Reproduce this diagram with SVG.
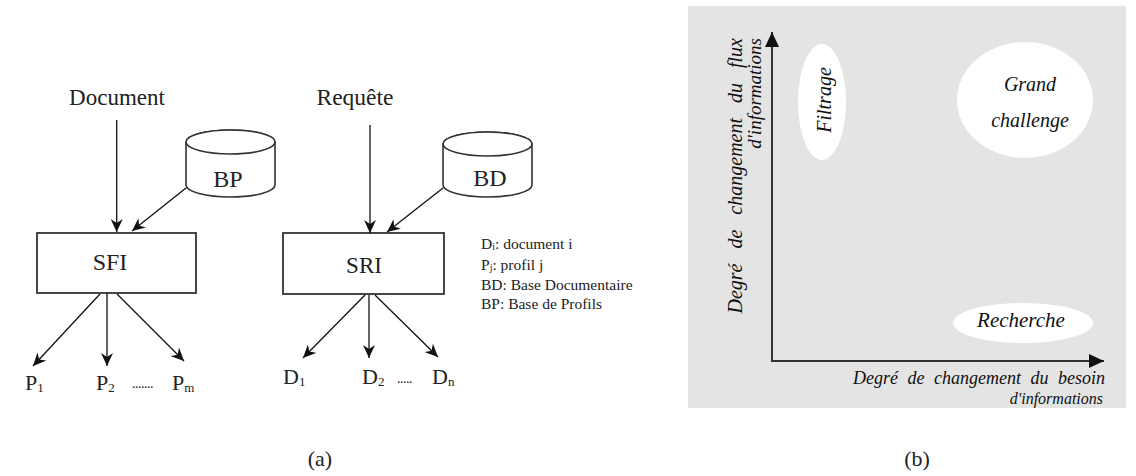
<svg xmlns="http://www.w3.org/2000/svg" width="1136" height="476" viewBox="0 0 1136 476">
<style>
.t{font-family:"Liberation Serif","Times New Roman",serif;fill:#222}
.it{font-family:"Liberation Serif","Times New Roman",serif;font-style:italic;fill:#111}
.box{fill:#fff;stroke:#333;stroke-width:1.8}
.cyl{fill:#fff;stroke:#333;stroke-width:1.6}
.con{stroke:#111;stroke-width:1.3;fill:none;marker-end:url(#ah)}
.axis{stroke:#333;stroke-width:2;fill:none;marker-end:url(#ax)}
.blob{fill:#fff}
</style>
<defs>
<marker id="ah" markerUnits="userSpaceOnUse" markerWidth="14" markerHeight="12" refX="13" refY="6" orient="auto">
<path d="M0,0 L13,6 L0,12 L4,6 z" fill="#111"/>
</marker>
<marker id="ax" markerUnits="userSpaceOnUse" markerWidth="16" markerHeight="14" refX="15" refY="7" orient="auto">
<path d="M0,0 L15,7 L0,14 z" fill="#111"/>
</marker>
</defs>
<rect width="1136" height="476" fill="#fff"/>

<!-- (a) -->
<g id="document"><text class="t" x="117" y="105" font-size="23" text-anchor="middle">Document</text></g>
<g id="requete"><text class="t" x="355" y="105" font-size="23.5" text-anchor="middle">Requête</text></g>

<g id="bp">
<path class="cyl" d="M186,142 L186,185 A44.5,12 0 0 0 275,185 L275,142 A44.5,12 0 0 0 186,142 Z"/>
<ellipse class="cyl" cx="230.5" cy="142" rx="44.5" ry="12"/>
<text class="t" x="228" y="187" font-size="24" text-anchor="middle">BP</text>
</g>
<g id="bd">
<path class="cyl" d="M443,144 L443,185 A44.5,12 0 0 0 532,185 L532,144 A44.5,12 0 0 0 443,144 Z"/>
<ellipse class="cyl" cx="487.5" cy="144" rx="44.5" ry="12"/>
<text class="t" x="490" y="186" font-size="24" text-anchor="middle">BD</text>
</g>

<g id="sfi">
<rect class="box" x="37" y="233" width="159" height="60"/>
<text class="t" x="110" y="270" font-size="24" text-anchor="middle">SFI</text>
</g>
<g id="sri">
<rect class="box" x="283" y="233" width="161" height="61"/>
<text class="t" x="364" y="273" font-size="23" text-anchor="middle">SRI</text>
</g>

<g id="connectors">
<line class="con" x1="116.7" y1="120" x2="116.7" y2="232"/>
<line class="con" x1="186" y1="188" x2="132" y2="231"/>
<line class="con" x1="370" y1="125" x2="370" y2="233"/>
<line class="con" x1="443" y1="188" x2="387" y2="232"/>
<line class="con" x1="100" y1="294" x2="33" y2="366"/>
<line class="con" x1="107" y1="293" x2="107" y2="366"/>
<line class="con" x1="117" y1="294" x2="184" y2="361"/>
<line class="con" x1="365" y1="295" x2="303" y2="358"/>
<line class="con" x1="369" y1="295" x2="369" y2="358"/>
<line class="con" x1="375" y1="295" x2="438" y2="357"/>
</g>

<g id="p-labels" class="t" font-size="22">
<text x="25" y="390">P<tspan font-size="13" dy="2">1</tspan></text>
<text x="96" y="390">P<tspan font-size="13" dy="2">2</tspan></text>
<text x="132" y="388" font-size="14" letter-spacing="-0.5">.......</text>
<text x="172" y="390">P<tspan font-size="13" dy="2">m</tspan></text>
</g>
<g id="d-labels" class="t" font-size="22">
<text x="283" y="384">D<tspan font-size="13" dy="2">1</tspan></text>
<text x="362" y="384">D<tspan font-size="13" dy="2">2</tspan></text>
<text x="397" y="383" font-size="14" letter-spacing="-0.5">.....</text>
<text x="432" y="384">D<tspan font-size="13" dy="2">n</tspan></text>
</g>

<g id="legend" class="t" font-size="15.5">
<text x="481" y="249">D<tspan font-size="10" dy="1">i</tspan><tspan dy="-1">: document i</tspan></text>
<text x="481" y="270">P<tspan font-size="10" dy="1">j</tspan><tspan dy="-1">: profil j</tspan></text>
<text x="481" y="290">BD: Base Documentaire</text>
<text x="481" y="309">BP: Base de Profils</text>
</g>

<!-- (b) -->
<rect id="panel" x="688" y="6" width="438" height="402" fill="#e4e4e4"/>
<g id="axes">
<line class="axis" x1="772" y1="361" x2="772" y2="32"/>
<line class="axis" x1="771" y1="361" x2="1104" y2="361"/>
</g>
<g id="ylabel" class="it" font-size="20">
<text transform="translate(742,38) rotate(-90)" text-anchor="end" word-spacing="10">Degré de changement du flux</text>
<text transform="translate(761,38) rotate(-90)" text-anchor="end" font-size="19">d'informations</text>
</g>
<g id="xlabel" class="it">
<text x="1105" y="384" text-anchor="end" font-size="18" word-spacing="5">Degré de changement du besoin</text>
<text x="1103" y="404" text-anchor="end" font-size="16">d'informations</text>
</g>
<g id="filtrage">
<ellipse class="blob" cx="822" cy="102" rx="24" ry="58"/>
<text class="it" font-size="20" transform="translate(831,100) rotate(-90)" text-anchor="middle">Filtrage</text>
</g>
<g id="grand-challenge">
<ellipse class="blob" cx="1025" cy="100" rx="68" ry="58"/>
<text class="it" font-size="20" x="1030" y="91" text-anchor="middle">Grand</text>
<text class="it" font-size="20" x="1030" y="127" text-anchor="middle">challenge</text>
</g>
<g id="recherche">
<ellipse class="blob" cx="1023" cy="323" rx="70" ry="20"/>
<text class="it" font-size="21" x="1021" y="327" text-anchor="middle">Recherche</text>
</g>

<g id="captions" class="t" font-size="22" fill="#111">
<text x="320" y="466" text-anchor="middle">(a)</text>
<text x="917" y="466" text-anchor="middle">(b)</text>
</g>
</svg>
